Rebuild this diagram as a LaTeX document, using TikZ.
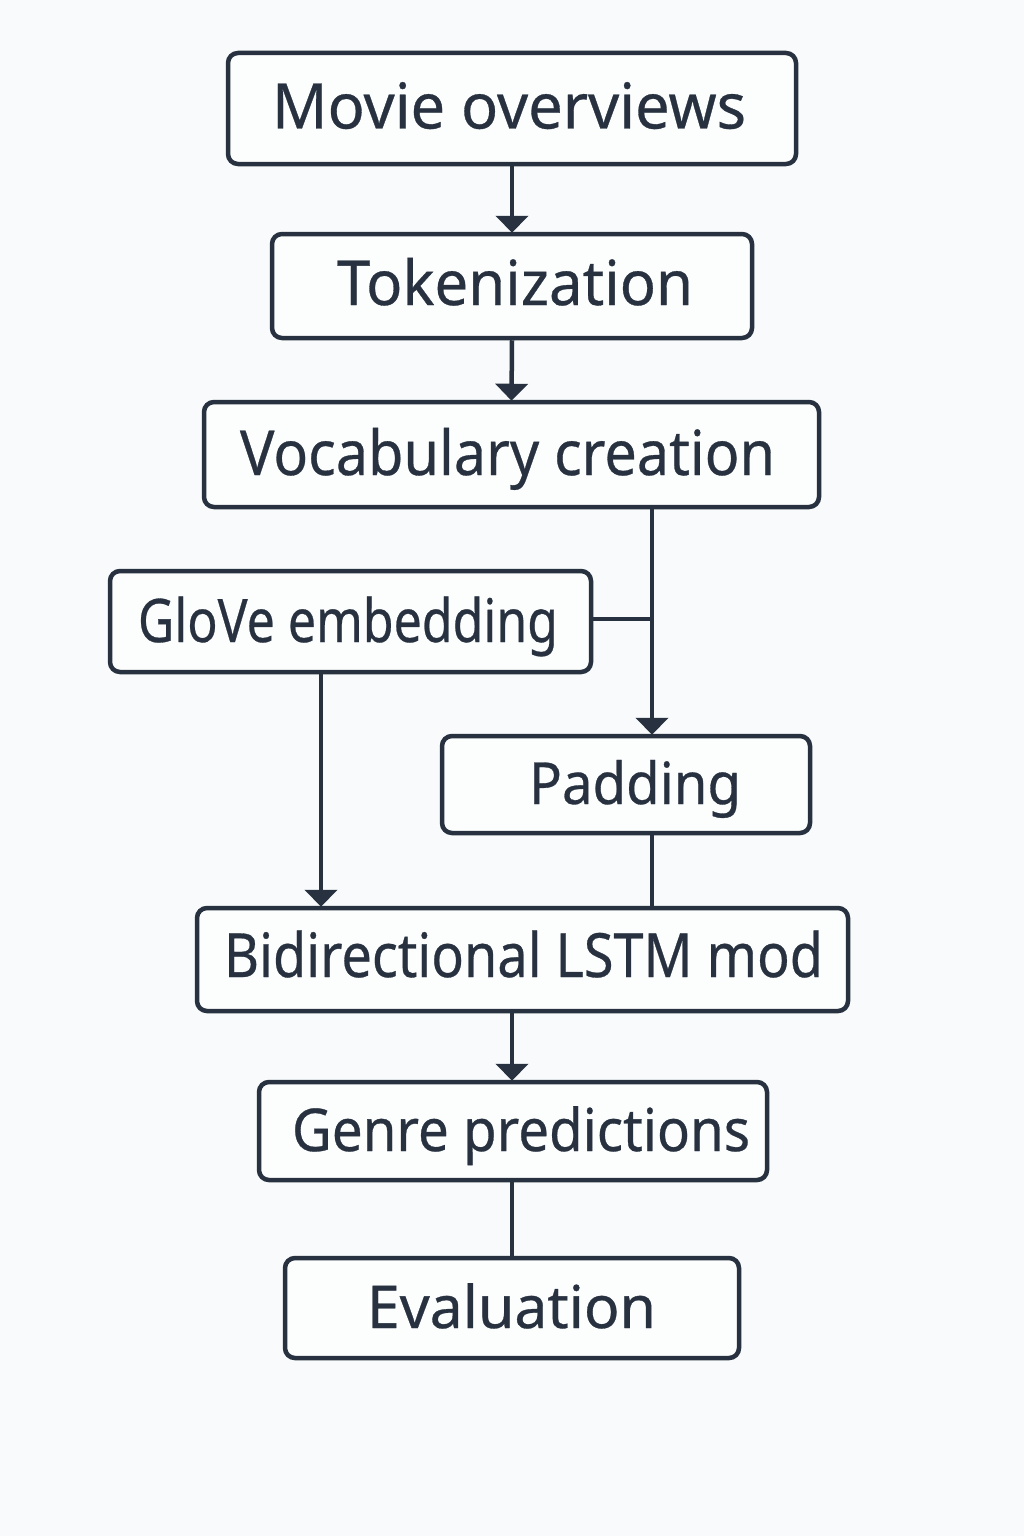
\documentclass[tikz,border=0pt]{standalone}
\usepackage{fontspec}
\setmainfont{Noto Sans}[FakeBold=0.5]
\usetikzlibrary{arrows.meta}
\definecolor{ink}{HTML}{27313F}
\definecolor{bg}{HTML}{F8FAFB}
\newcommand{\fitto}[3]{\fontsize{#2}{#2}\selectfont\resizebox{#1pt}{\height}{#3}}
\begin{document}
\begin{tikzpicture}[x=1pt,y=-1pt,
  box/.style={draw=ink, line width=4.5pt, rounded corners=10pt, fill=white!60!bg, inner sep=0pt},
  lbl/.style={text=ink, inner sep=0pt, anchor=base},
  conn/.style={draw=ink, line width=4.5pt},
  arr/.style={conn, -{Triangle[width=32pt,length=17pt]}, shorten >=-1pt}]
\fill[bg] (0,0) rectangle (1024,1536);
\useasboundingbox (0,0) rectangle (1024,1536);
\node[box, minimum width=568, minimum height=111] (mo) at (512,108.5) {};
\node[box, minimum width=480, minimum height=104] (tok) at (512,286) {};
\node[box, minimum width=615, minimum height=105] (voc) at (511.5,454.5) {};
\node[box, minimum width=481, minimum height=101] (glo) at (350.5,621.5) {};
\node[box, minimum width=368, minimum height=97] (pad) at (626,784.5) {};
\node[box, minimum width=651, minimum height=103] (bil) at (522.5,959.5) {};
\node[box, minimum width=508, minimum height=98] (gen) at (513,1131) {};
\node[box, minimum width=454, minimum height=100] (ev) at (512,1308) {};
\node[lbl] (mo-t) at (509,128.5) {\fitto{474}{63}{Movie overviews}};
\node[lbl] (tok-t) at (515,305) {\fitto{356}{62}{Tokenization}};
\node[lbl] (voc-t) at (507.5,475) {\fitto{535}{62}{Vocabulary creation}};
\node[lbl] (glo-t) at (348,642) {\fitto{420}{60}{GloVe embedding}};
\node[lbl] (pad-t) at (635,804) {\fitto{212}{58}{Padding}};
\node[lbl] (bil-t) at (523.5,977) {\fitto{599}{61}{Bidirectional LSTM mod}};
\node[lbl] (gen-t) at (521,1151) {\fitto{458}{59}{Genre predictions}};
\node[lbl] (ev-t) at (511.5,1328) {\fitto{289}{59}{Evaluation}};
\coordinate (j) at (652,619);
\draw[arr] (mo.south) -- (tok.north);
\draw[arr] (tok.south) -- (voc.north);
\draw[arr] (voc.south -| j) -- (pad.north -| j);
\draw[conn] (glo.east |- j) -- (j);
\draw[arr] (glo.south -| 321,0) -- (bil.north -| 321,0);
\draw[conn] (pad.south -| j) -- (bil.north -| j);
\draw[arr] (bil.south -| 512,0) -- (gen.north -| 512,0);
\draw[conn] (gen.south -| 512,0) -- (ev.north -| 512,0);
\end{tikzpicture}
\end{document}
